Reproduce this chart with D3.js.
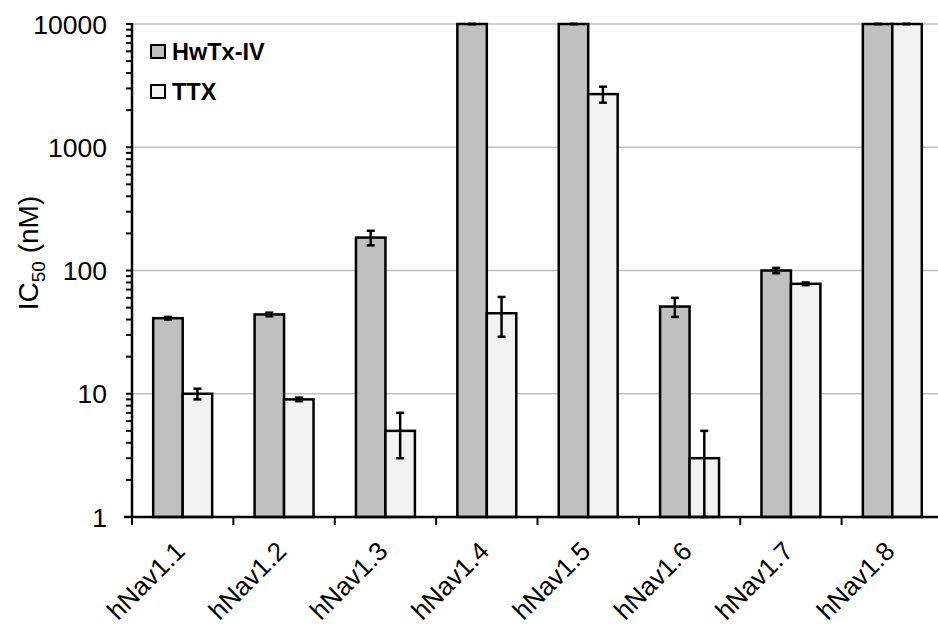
<!DOCTYPE html>
<html>
<head>
<meta charset="utf-8">
<script src="https://cdn.jsdelivr.net/npm/d3@7"></script>
<style>
  body { margin: 0; background: #fff; }
  text { font-family: "Liberation Sans", Arial, sans-serif; }
</style>
</head>
<body>
<svg id="chart" width="938" height="628"></svg>
<script>
// channel subtypes and IC50 values (nM)
var channels = ["hNav1.1", "hNav1.2", "hNav1.3", "hNav1.4", "hNav1.5", "hNav1.6", "hNav1.7", "hNav1.8"];
var series = ["HwTx-IV", "TTX"];
var hwtx = [41, 44, 185, 10000, 10000, 51, 100, 10000];
var hwtxErr = [1, 1.5, 25, 0, 0, 9, 5, 0];
var ttx = [10, 9, 5, 45, 2700, 3, 78, 10000];
var ttxErr = [1, 0.3, 2, 16, 400, 2, 2, 0];
var yTicks = [1, 10, 100, 1000, 10000];

var colors = {"HwTx-IV": "#c0c0c0", "TTX": "#f2f2f2"};

var svg = d3.select("#chart");
var margin = {top: 24, left: 132, bottom: 111},
    height = 628 - margin.top - margin.bottom;

var x = d3.scaleBand().domain(channels).range([margin.left, margin.left + 811]).padding(0);
var xs = d3.scaleBand().domain(series).range([0, x.bandwidth()]).paddingInner(0).paddingOuter(0.72);
var y = d3.scaleLog().domain([1, 10000]).range([margin.top + height, margin.top]);

// gridlines
svg.append("g").selectAll("line")
  .data(yTicks.slice(1)).enter()
  .append("line")
  .attr("x1", margin.left).attr("x2", 938)
  .attr("y1", d => y(d)).attr("y2", d => y(d))
  .style("stroke", "#bfbfbf").style("stroke-width", 1.5);

// build rows of data
var rows = channels.map(function (c, i) {
  return [
    {ch: c, s: "HwTx-IV", v: hwtx[i], e: hwtxErr[i]},
    {ch: c, s: "TTX", v: ttx[i], e: ttxErr[i]}
  ];
});
var flat = [].concat.apply([], rows);

svg.append("g").selectAll("rect")
  .data(flat).enter()
  .append("rect")
  .attr("x", d => x(d.ch) + xs(d.s))
  .attr("width", xs.bandwidth())
  .attr("y", d => y(d.v))
  .attr("height", d => y(1) - y(d.v))
  .style("fill", d => colors[d.s])
  .style("stroke", "#000")
  .style("stroke-width", 2.5);

// error bars
var eb = svg.append("g").style("stroke", "#000").style("stroke-width", 2.5);
flat.forEach(function (d) {
  var cx = x(d.ch) + xs(d.s) + xs.bandwidth() / 2;
  var hi = Math.min(d.v + d.e, 10000), lo = d.v - d.e;
  eb.append("line").attr("x1", cx).attr("x2", cx).attr("y1", y(hi)).attr("y2", y(lo));
  eb.append("line").attr("x1", cx - 4).attr("x2", cx + 4).attr("y1", y(hi)).attr("y2", y(hi));
  eb.append("line").attr("x1", cx - 4).attr("x2", cx + 4).attr("y1", y(lo)).attr("y2", y(lo));
});

// y axis with minor ticks
var minor = [];
for (var dec = 1; dec < 10000; dec *= 10) {
  for (var k = 2; k < 10; k++) minor.push(dec * k);
}
var ya = svg.append("g").attr("transform", "translate(" + margin.left + ",0)");
ya.selectAll("line.minor")
  .data(minor.concat(yTicks)).enter()
  .append("line")
  .attr("x1", -6).attr("x2", 0)
  .attr("y1", d => y(d)).attr("y2", d => y(d))
  .style("stroke", "#000").style("stroke-width", 2);
ya.append("line")
  .attr("x1", 0).attr("x2", 0)
  .attr("y1", y(10000) - 1).attr("y2", y(1) + 1)
  .style("stroke", "#000").style("stroke-width", 2.5);
ya.selectAll("text")
  .data(yTicks).enter()
  .append("text")
  .attr("x", -25)
  .attr("y", d => y(d))
  .attr("dy", "0.36em")
  .attr("text-anchor", "end")
  .style("font-size", "26.5px")
  .text(d => d);

// x axis
var xa = svg.append("g").attr("transform", "translate(0," + y(1) + ")");
xa.append("line")
  .attr("x1", margin.left - 8).attr("x2", 938)
  .style("stroke", "#000").style("stroke-width", 2.5);
xa.selectAll("line.tick")
  .data(channels).enter()
  .append("line")
  .attr("x1", d => x(d)).attr("x2", d => x(d))
  .attr("y1", 0).attr("y2", 8)
  .style("stroke", "#000").style("stroke-width", 2);
xa.selectAll("text")
  .data(channels).enter()
  .append("text")
  .attr("transform", d => "translate(" + (x(d) + x.bandwidth() / 2 - 9) + ",23) rotate(-45)")
  .attr("text-anchor", "end")
  .attr("dy", "0.7em")
  .style("font-size", "26px")
  .text(d => d);

// y label
var yl = svg.append("text")
  .attr("transform", "translate(38,253) rotate(-90)")
  .attr("text-anchor", "middle")
  .style("font-size", "28px");
yl.append("tspan").text("IC");
yl.append("tspan").attr("dy", 7).style("font-size", "19px").text("50");
yl.append("tspan").attr("dy", -7).text(" (nM)");

// legend
var lg = svg.append("g").attr("transform", "translate(151,45)");
series.forEach(function (s, i) {
  var g = lg.append("g").attr("transform", "translate(0," + (i * 40) + ")");
  g.append("rect").attr("width", 14).attr("height", 13)
    .style("fill", colors[s]).style("stroke", "#000").style("stroke-width", 2);
  g.append("text").attr("x", 21).attr("y", 15)
    .style("font-size", "23.5px").style("font-weight", "bold").text(s);
});
</script>
</body>
</html>
